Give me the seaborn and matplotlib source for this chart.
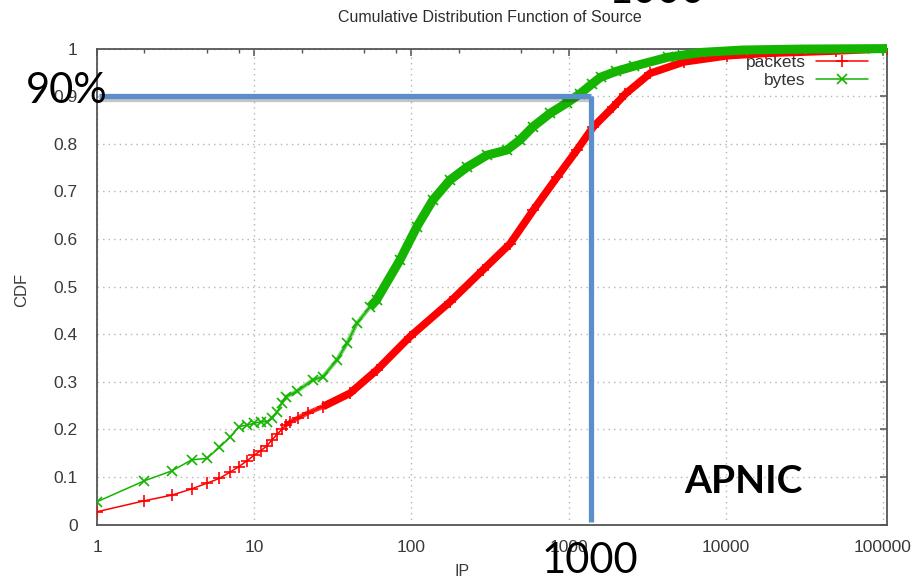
import matplotlib
matplotlib.use("Agg")
import matplotlib.pyplot as plt
import matplotlib.patheffects as pe
from matplotlib.lines import Line2D
from matplotlib.ticker import FixedLocator, NullFormatter
import numpy as np
import pandas as pd
import seaborn as sns

# Number of source IPs vs cumulative share
packets_x = [1, 2, 3, 4, 5, 6, 7, 8, 9, 10, 11, 12, 13, 14, 15, 16, 17, 19, 22,
             27.4, 40.7, 60.4, 98, 176, 285, 424, 594, 844, 1130, 1430, 1915,
             2300, 3300, 5400, 10200, 18000, 50000, 106000]
packets_y = [0.027, 0.050, 0.062, 0.075, 0.087, 0.097, 0.110, 0.122, 0.134, 0.146,
             0.155, 0.165, 0.178, 0.190, 0.200, 0.210, 0.216, 0.224, 0.235,
             0.248, 0.276, 0.325, 0.395, 0.468, 0.535, 0.590, 0.660, 0.730,
             0.787, 0.835, 0.877, 0.905, 0.948, 0.972, 0.985, 0.990, 0.995, 1.0]

bytes_x = [1, 2, 3, 4, 5, 6, 7, 8, 9, 10, 11, 12, 13, 14, 15, 16, 18.7, 23.6,
           27.3, 33.6, 39, 45, 54.5, 60, 84.6, 108, 137, 176, 226, 302, 405, 490,
           594, 762, 976, 1180, 1400, 1600, 2000, 2600, 4300, 7000, 12800, 30000,
           106000]
bytes_y = [0.048, 0.092, 0.113, 0.136, 0.139, 0.162, 0.183, 0.206, 0.209, 0.213,
           0.216, 0.216, 0.223, 0.237, 0.255, 0.269, 0.280, 0.304, 0.310, 0.346,
           0.381, 0.423, 0.457, 0.472, 0.556, 0.625, 0.682, 0.724, 0.751, 0.776,
           0.787, 0.808, 0.836, 0.864, 0.886, 0.905, 0.925, 0.940, 0.952, 0.963,
           0.982, 0.992, 0.997, 0.999, 1.0]

series_labels = ["packets", "bytes"]
major_ticks = [1, 10, 100, 1000, 10000, 100000]
major_labels = ["1", "10", "100", "1000", "10000", "100000"]
y_ticks = [0, 0.1, 0.2, 0.3, 0.4, 0.5, 0.6, 0.7, 0.8, 0.9, 1]
y_labels = ["0", "0.1", "0.2", "0.3", "0.4", "0.5", "0.6", "0.7", "0.8", "0.9", "1"]

# highlighted reading: 90% of traffic at about this many IPs
mark_share = 0.9
mark_ips = 1390

RED = "#ff0000"
GREEN = "#14b400"
INK = "#3a3a3a"

sns.set_theme(style="white")
plt.rcParams["font.family"] = ["Liberation Sans", "DejaVu Sans"]

fig = plt.figure(figsize=(9.17, 5.79), dpi=100)
W, H = 917, 579
ax = fig.add_axes([97 / W, 1 - 524.6 / H, 790 / W, 476 / H])

pk = pd.DataFrame({"ip": packets_x, "cdf": packets_y})
by = pd.DataFrame({"ip": bytes_x, "cdf": bytes_y})

# thin line with point markers
sns.lineplot(data=pk, x="ip", y="cdf", ax=ax, color=RED, lw=1.1, marker="+",
             markersize=8, markeredgewidth=1.2, markeredgecolor=RED,
             estimator=None, sort=False, legend=False, zorder=3)
sns.lineplot(data=by, x="ip", y="cdf", ax=ax, color=GREEN, lw=1.1, marker="x",
             markersize=7, markeredgewidth=1.2, markeredgecolor=GREEN,
             estimator=None, sort=False, legend=False, zorder=4)

# dense stretch where the markers merge into a band
sns.lineplot(data=pk[(pk["ip"] >= 16) & (pk["ip"] <= 28)], x="ip", y="cdf", ax=ax,
             color=RED, lw=3.5, alpha=0.8, estimator=None, sort=False,
             legend=False, zorder=3)
sns.lineplot(data=pk[pk["ip"] >= 27.4], x="ip", y="cdf", ax=ax, color=RED, lw=5.5,
             estimator=None, sort=False, legend=False, zorder=3, clip_on=False,
             solid_capstyle="butt")
sns.lineplot(data=by[(by["ip"] >= 16) & (by["ip"] <= 60)], x="ip", y="cdf", ax=ax,
             color=GREEN, lw=3.0, alpha=0.55, estimator=None, sort=False,
             legend=False, zorder=4)
sns.lineplot(data=by[by["ip"] >= 54.5], x="ip", y="cdf", ax=ax, color=GREEN, lw=6.5,
             estimator=None, sort=False, legend=False, zorder=4, clip_on=False,
             solid_capstyle="butt")

ax.set_xscale("log")
ax.set_xlim(1, 106000)
ax.set_ylim(0, 1)
ax.set_xticks(major_ticks, major_labels)
ax.xaxis.set_minor_locator(FixedLocator([m * 10 ** k for k in range(0, 5) for m in (2, 5, 8)]))
ax.xaxis.set_minor_formatter(NullFormatter())
ax.set_yticks(y_ticks, y_labels)

ax.grid(which="major", linestyle=(0, (1, 3)), color="#b5b5b5", lw=1.0)
ax.tick_params(which="both", direction="in", top=True, right=True, color="#555555",
               labelcolor=INK, labelsize=12.5)
ax.tick_params(which="major", length=5, width=1.1)
ax.tick_params(which="minor", length=3, width=1.0)
ax.tick_params(axis="y", pad=14)
ax.tick_params(axis="x", pad=11)
for s in ax.spines.values():
    s.set_color("#555555")
    s.set_linewidth(1.3)

ax.set_xlabel("IP", fontsize=11.5, color=INK)
ax.xaxis.set_label_coords((462 - 97) / 790, -(571 - 524.6) / 476)
ax.xaxis.label.set_va("center")
ax.set_ylabel("CDF", fontsize=12, color=INK)
ax.yaxis.set_label_coords((22 - 97) / 790, (524.6 - 290) / 476)
ax.yaxis.label.set_va("center")

fig.text(490 / W, 1 - 18 / H, "Cumulative Distribution Function of Source",
         ha="center", va="center", fontsize=11.5, color="#2e2e2e")

handles = [
    Line2D([], [], color=RED, lw=1.1, marker="+", markersize=8, markeredgewidth=1.2),
    Line2D([], [], color=GREEN, lw=1.1, marker="x", markersize=7, markeredgewidth=1.2),
]
leg = ax.legend(handles, series_labels, loc="upper right", bbox_to_anchor=(0.976, 0.986),
                frameon=False, markerfirst=False, numpoints=1, handlelength=3.0,
                handletextpad=0.6, labelspacing=0.15, borderpad=0, borderaxespad=0,
                fontsize=12.5, labelcolor="#333333")
leg.set_zorder(2)

# 90% guide lines
BLUE = "#5b8fc9"
shadow = [pe.SimpleLineShadow(offset=(0.5, -2), alpha=0.25), pe.Normal()]
ax.plot([1.03, mark_ips], [mark_share, mark_share], color=BLUE, lw=3.8,
        solid_capstyle="butt", zorder=6, clip_on=False, path_effects=shadow)
ax.plot([mark_ips, mark_ips], [mark_share, 0.006], color=BLUE, lw=3.8,
        solid_capstyle="butt", zorder=6, clip_on=False)

fig.text(67 / W, 1 - 103 / H, "90%", ha="center", va="baseline",
         fontsize=30, family=["Lato", "DejaVu Sans"], color="black")
fig.text(590 / W, 1 - 573 / H, "1000", ha="center", va="baseline",
         fontsize=30, family=["Lato", "DejaVu Sans"], color="black")
fig.text(657 / W, 1 - 3 / H, "1000", ha="center", va="baseline",
         fontsize=30, family=["Lato", "DejaVu Sans"], color="black")
fig.text(743 / W, 1 - 493 / H, "APNIC", ha="center", va="baseline",
         fontsize=28, fontweight="bold", family=["Lato", "DejaVu Sans"], color="black")

fig.savefig("out.png", dpi=100)
